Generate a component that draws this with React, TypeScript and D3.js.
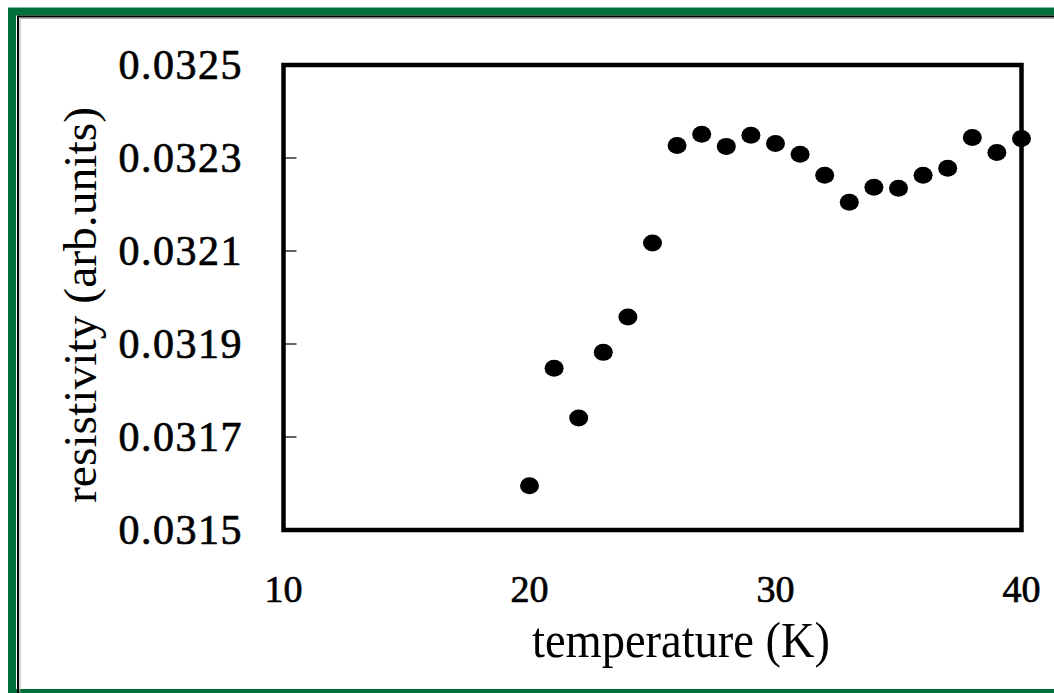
import React, { useRef, useEffect } from 'react'
import * as d3 from 'd3'

const temperatures = [20, 21, 22, 23, 24, 25, 26, 27, 28, 29, 30, 31, 32, 33, 34, 35, 36, 37, 38, 39, 40]
const resistivity = [
  0.031595, 0.031848, 0.031741, 0.031882, 0.031958, 0.032117, 0.032327,
  0.032351, 0.032325, 0.032349, 0.032331, 0.032308, 0.032263, 0.032205,
  0.032237, 0.032235, 0.032263, 0.032278, 0.032344, 0.032312, 0.032342,
]
const xTicks = [10, 20, 30, 40]
const yTicks = [0.0315, 0.0317, 0.0319, 0.0321, 0.0323, 0.0325]

const FONT = '"Liberation Serif", "Times New Roman", serif'

const App = () => {
  const svgRef = useRef<SVGSVGElement>(null)

  useEffect(() => {
    const svg = d3.select(svgRef.current)
    svg.selectAll('*').remove()

    const left = 283.5, right = 1021.5, top = 65, bottom = 530

    // outer frame
    svg.append('rect')
      .attr('x', 12).attr('y', 11.5).attr('width', 1100).attr('height', 681.5)
      .attr('fill', 'none').attr('stroke', '#00703a').attr('stroke-width', 8)
    svg.append('path')
      .attr('d', 'M18,700 V16.5 H1060')
      .attr('fill', 'none').attr('stroke', '#000').attr('stroke-width', 2)
    svg.append('path')
      .attr('d', 'M20,700 V18.5 H1060')
      .attr('fill', 'none').attr('stroke', '#aaa').attr('stroke-width', 1)

    const x = d3.scaleLinear().domain([10, 40]).range([left, right])
    const y = d3.scaleLinear().domain([0.0315, 0.0325]).range([bottom, top])

    // tick marks inside the left axis
    svg.append('g').selectAll('line')
      .data(yTicks.slice(1, -1))
      .enter().append('line')
      .attr('x1', left).attr('x2', left + 13)
      .attr('y1', d => y(d)).attr('y2', d => y(d))
      .attr('stroke', '#000').attr('stroke-width', 1.2)

    // points
    svg.append('g').selectAll('ellipse')
      .data(temperatures.map((t, i) => [t, resistivity[i]]))
      .enter().append('ellipse')
      .attr('cx', d => x(d[0]))
      .attr('cy', d => y(d[1]))
      .attr('rx', 9.5).attr('ry', 8.5)
      .attr('fill', '#000')

    // plot box
    svg.append('rect')
      .attr('x', left).attr('y', top)
      .attr('width', right - left).attr('height', bottom - top)
      .attr('fill', 'none').attr('stroke', '#000').attr('stroke-width', 4.5)

    // y tick labels
    svg.append('g').selectAll('text')
      .data(yTicks)
      .enter().append('text')
      .attr('x', 243).attr('y', d => y(d) + 14)
      .attr('text-anchor', 'end')
      .attr('font-family', FONT).attr('font-size', 42)
      .attr('letter-spacing', 1.5)
      .attr('stroke', '#000').attr('stroke-width', 0.7)
      .text(d => d.toFixed(4))

    // x tick labels
    svg.append('g').selectAll('text')
      .data(xTicks)
      .enter().append('text')
      .attr('x', d => x(d)).attr('y', 602)
      .attr('text-anchor', 'middle')
      .attr('font-family', FONT).attr('font-size', 38)
      .attr('stroke', '#000').attr('stroke-width', 0.7)
      .text(d => d)

    // axis titles
    svg.append('text')
      .attr('x', 532).attr('y', 657)
      .attr('font-family', FONT).attr('font-size', 50)
      .attr('textLength', 298).attr('lengthAdjust', 'spacingAndGlyphs')
      .text('temperature (K)')

    svg.append('text')
      .attr('transform', 'translate(96,503) rotate(-90)')
      .attr('font-family', FONT).attr('font-size', 47)
      .attr('textLength', 396).attr('lengthAdjust', 'spacingAndGlyphs')
      .text('resistivity (arb.units)')
  }, [])

  return (
    <svg ref={svgRef} width={1054} height={693}
      style={{ position: 'absolute', left: 0, top: 0, background: '#fff' }} />
  )
}

export default App
